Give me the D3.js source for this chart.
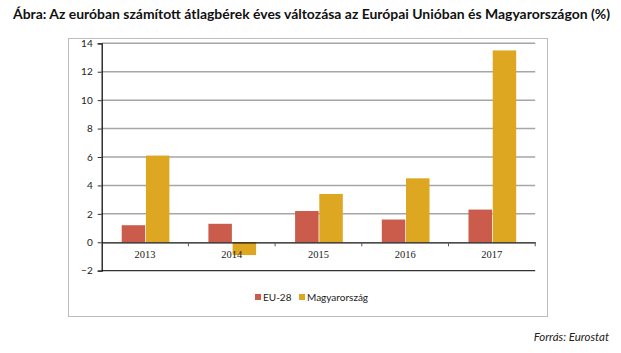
<!DOCTYPE html>
<html><head><meta charset="utf-8">
<script src="https://cdn.jsdelivr.net/npm/d3@7"></script>
<style>body{margin:0;background:#fff;} svg{display:block;}</style>
</head><body>
<svg id="c" width="621" height="353"></svg>
<script>
const categories = ["2013","2014","2015","2016","2017"];
const seriesNames = ["EU-28","Magyarország"];
const eu28 = [1.2, 1.3, 2.2, 1.6, 2.3];
const hungary = [6.1, -0.9, 3.4, 4.5, 13.5];
const yTicks = [-2,0,2,4,6,8,10,12,14];
const colors = ["#CB5B4A","#DEA722"];
const titleText = "Ábra: Az euróban számított átlagbérek éves változása az Európai Unióban és Magyarországon (%)";
const sourceText = "Forrás: Eurostat";

const svg = d3.select("#c");
const sans = "Lato, 'Open Sans', sans-serif";

// title
const t = svg.append("text").attr("x", 13).attr("y", 19)
  .attr("font-family", sans).attr("font-weight", "bold").attr("font-size", 12.5)
  .attr("fill", "#111").text(titleText);
const tw = t.node().getComputedTextLength();
t.attr("textLength", 597).attr("lengthAdjust", "spacingAndGlyphs");

// frame
svg.append("rect").attr("x", 68.5).attr("y", 38.5).attr("width", 479).attr("height", 278)
  .attr("fill", "none").attr("stroke", "#bdbdbd").attr("stroke-width", 1);

const x = d3.scaleBand().domain(categories).range([101.7, 535.2]);
const y = d3.scaleLinear().domain([-2, 14]).range([270.7, 43.3]);
const inner = d3.scaleBand().domain(seriesNames).range([20, x.bandwidth() - 19]).paddingInner(0.03);

// gridlines
svg.append("g").selectAll("line").data(yTicks.filter(v => v > 0)).join("line")
  .attr("x1", x.range()[0]).attr("x2", x.range()[1])
  .attr("y1", d => y(d)).attr("y2", d => y(d))
  .attr("stroke", "#a6a6a6").attr("stroke-width", 1.5);

// bars
const data = categories.map((c, i) => ({c, vals: [eu28[i], hungary[i]]}));
const g = svg.append("g");
data.forEach(d => {
  d.vals.forEach((v, j) => {
    g.append("rect")
      .attr("x", x(d.c) + inner(seriesNames[j]))
      .attr("width", inner.bandwidth())
      .attr("y", y(Math.max(0, v)))
      .attr("height", Math.abs(y(v) - y(0)))
      .attr("fill", colors[j]);
  });
});

// bottom line at -2
svg.append("line").attr("x1", x.range()[0]).attr("x2", x.range()[1])
  .attr("y1", y(-2)).attr("y2", y(-2)).attr("stroke", "#333").attr("stroke-width", 1.3);

// y axis
const yAxis = svg.append("g").attr("transform", `translate(${x.range()[0]},0)`)
  .call(d3.axisLeft(y).tickValues(yTicks).tickSize(4).tickPadding(5));
yAxis.select(".domain").attr("stroke", "#111").attr("stroke-width", 1.3);
yAxis.selectAll(".tick line").attr("stroke", "#333");
yAxis.selectAll("text").attr("font-family", sans).attr("font-size", 10).attr("fill", "#222");

// x axis at 0
const xAxis = svg.append("g").attr("transform", `translate(0,${y(0)})`)
  .call(d3.axisBottom(x).tickSize(0).tickPadding(8));
xAxis.select(".domain").attr("stroke", "#111").attr("stroke-width", 1.3);
xAxis.selectAll("text").attr("font-family", "'Liberation Serif', 'DejaVu Serif', serif")
  .attr("font-size", 10.5).attr("fill", "#222");
// boundary tick marks
svg.append("g").selectAll("line").data(categories.slice(1).concat([null])).join("line")
  .attr("x1", (d, i) => x.range()[0] + x.step() * (i + 1))
  .attr("x2", (d, i) => x.range()[0] + x.step() * (i + 1))
  .attr("y1", y(0)).attr("y2", y(0) + 4).attr("stroke", "#555").attr("stroke-width", 1);

// legend
const legX = [255, 299];
seriesNames.forEach((s, j) => {
  svg.append("rect").attr("x", legX[j]).attr("y", 294).attr("width", 6).attr("height", 6).attr("fill", colors[j]);
  svg.append("text").attr("x", legX[j] + 8).attr("y", 300.5)
    .attr("font-family", sans).attr("font-size", 10).attr("fill", "#222").text(s);
});

// source
svg.append("text").attr("x", 609).attr("y", 341).attr("text-anchor", "end")
  .attr("font-family", sans).attr("font-style", "italic").attr("font-size", 11.5)
  .attr("fill", "#222").text(sourceText);
</script>
</body></html>
